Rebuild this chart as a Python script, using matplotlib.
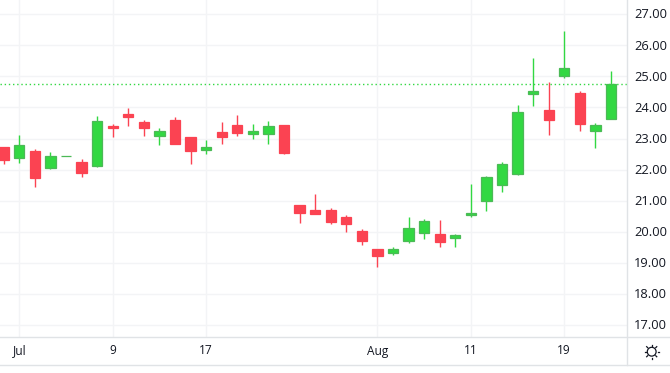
import matplotlib
matplotlib.use('Agg')
import matplotlib.pyplot as plt
from matplotlib.lines import Line2D
from matplotlib.patches import Circle

# daily candles
opens = [22.73, 22.36, 22.60, 22.06, 22.43, 22.25, 22.12, 23.41, 23.79, 23.53,
         23.08, 23.60, 23.05, 22.63, 23.21, 23.44, 23.15, 23.15, 23.44, 20.87,
         20.71, 20.71, 20.48, 20.03, 19.45, 19.32, 19.71, 19.96, 19.93, 19.80,
         20.54, 20.99, 21.50, 21.86, 24.43, 23.92, 25.01, 24.46, 23.24, 23.63]
closes = [22.32, 22.78, 21.73, 22.44, 22.43, 21.89, 23.57, 23.34, 23.70, 23.34,
          23.25, 22.83, 22.60, 22.73, 23.05, 23.18, 23.25, 23.41, 22.54, 20.61,
          20.58, 20.32, 20.25, 19.71, 19.23, 19.45, 20.13, 20.35, 19.68, 19.90,
          20.61, 21.76, 22.18, 23.85, 24.53, 23.59, 25.27, 23.47, 23.43, 24.75]
highs = [22.73, 23.12, 22.67, 22.57, 22.43, 22.34, 23.73, 23.47, 23.98, 23.60,
         23.34, 23.70, 23.05, 22.96, 23.53, 23.76, 23.47, 23.57, 23.44, 20.87,
         21.22, 20.77, 20.54, 20.09, 19.45, 19.51, 20.48, 20.42, 20.38, 19.93,
         21.54, 21.79, 22.24, 24.08, 25.59, 24.82, 26.46, 24.53, 23.50, 25.17]
lows = [22.19, 22.23, 21.44, 22.02, 22.43, 21.77, 22.09, 23.05, 23.40, 23.08,
        22.79, 22.83, 22.18, 22.50, 22.83, 23.08, 22.99, 22.83, 22.51, 20.29,
        20.58, 20.25, 20.00, 19.58, 18.87, 19.26, 19.64, 19.77, 19.51, 19.51,
        20.48, 20.67, 21.28, 21.83, 24.04, 23.11, 24.94, 23.24, 22.69, 23.63]
is_up = [False, True, False, True, True, False, True, False, False, False,
         True, False, False, True, False, False, True, True, False, False,
         False, False, False, False, False, True, True, True, False, True,
         True, True, True, True, True, False, True, False, True, True]

last_price = 24.74
price_ticks = [17, 18, 19, 20, 21, 22, 23, 24, 25, 26, 27]
date_idx = [1, 7, 13, 24, 30, 36]
date_labels = ['Jul', '9', '17', 'Aug', '11', '19']

GREEN = '#32d842'
GREEN_EDGE = '#4cb957'
RED = '#fb4352'
GRID = '#f3f4f6'
BORDER = '#e0e3e6'
TEXT = '#131722'

plt.rcParams['font.family'] = ['Open Sans', 'DejaVu Sans']

W, H = 670, 373
fig = plt.figure(figsize=(W / 100, H / 100), dpi=100)
ax = fig.add_axes([0, (H - 337.3) / H, 627 / W, 337.3 / H])
ax.set_xlim(-0.238, 40.03)
ax.set_ylim(16.61, 27.457)

ax.set_yticks(price_ticks)
ax.set_xticks(date_idx)
ax.set_xticklabels([])
ax.set_yticklabels([])
ax.tick_params(length=0)
ax.grid(True, color=GRID, linewidth=1)
ax.set_axisbelow(True)
for s in ax.spines.values():
    s.set_visible(False)

for i in range(len(opens)):
    wick = GREEN if is_up[i] else RED
    ax.vlines(i, lows[i], highs[i], color=wick, linewidth=1, zorder=2)
    bottom = min(opens[i], closes[i])
    height = abs(closes[i] - opens[i])
    if is_up[i]:
        ax.bar(i, height, 0.66, bottom=bottom, color=GREEN, edgecolor=GREEN_EDGE,
               linewidth=0.9, zorder=3)
    else:
        ax.bar(i, height, 0.66, bottom=bottom, color=RED, edgecolor=RED,
               linewidth=0.9, zorder=3)

ax.axhline(last_price, color=GREEN, linewidth=1, linestyle=(0, (1, 2)), zorder=4)

# frame lines and labels in pixel positions
def fx(px):
    return px / W

def fy(py):
    return 1 - py / H

for coords in [((fx(0), fx(W)), (fy(337.3), fy(337.3))),
               ((fx(0), fx(W)), (fy(365), fy(365))),
               ((fx(626.7), fx(626.7)), (fy(0), fy(365)))]:
    fig.add_artist(Line2D(coords[0], coords[1], color=BORDER, linewidth=1))

for t in price_ticks:
    py = 46 + (26 - t) * 31.1
    fig.text(fx(667), fy(py), '%.2f' % t, ha='right', va='center', fontsize=9.3, color=TEXT)

for i, lab in zip(date_idx, date_labels):
    px = 3.7 + i * 15.57
    fig.text(fx(px), fy(351), lab, ha='center', va='center', fontsize=8.6, color=TEXT)

# sun icon
sx, sy = 651.7, 351.7
fig.add_artist(Circle((sx, H - sy), 4.4, transform=None, fill=False, edgecolor=TEXT, linewidth=0.9))
for dx, dy in [(0, 1), (0, -1), (1, 0), (-1, 0), (.7, .7), (-.7, .7), (.7, -.7), (-.7, -.7)]:
    fig.add_artist(Line2D([sx + dx * 5.8, sx + dx * 7.2], [H - sy + dy * 5.8, H - sy + dy * 7.2],
                          transform=None, color=TEXT, linewidth=0.9))

fig.savefig('out.png', dpi=100)
